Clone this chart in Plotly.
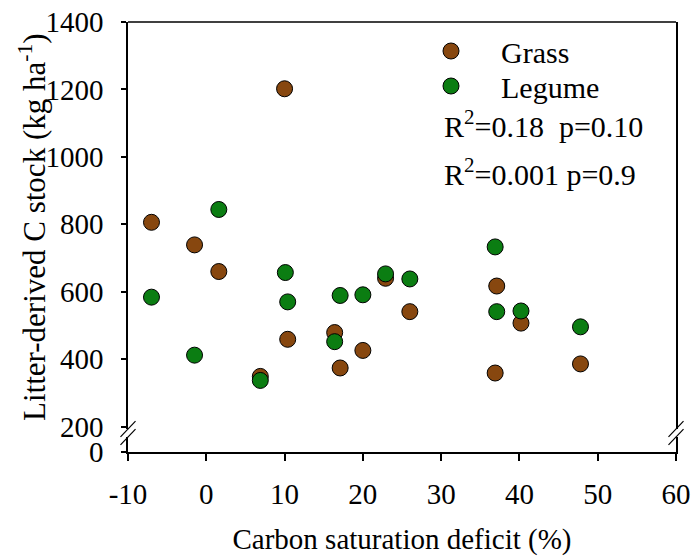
import plotly.graph_objects as go

# ---- data ----
grass_x = [-7.0, -1.5, 1.6, 6.9, 10.0, 10.4, 16.4, 17.1, 20.0, 22.9, 26.0, 36.9, 37.1, 40.2, 47.8]
grass_y = [806, 739, 660, 349, 1202, 459, 479, 374, 426, 640, 541, 359, 617, 507, 386]
legume_x = [-7.0, -1.5, 1.6, 6.9, 10.1, 10.4, 16.4, 17.1, 20.0, 22.9, 26.0, 36.9, 37.1, 40.2, 47.8]
legume_y = [584, 412, 844, 337, 657, 570, 452, 589, 591, 653, 638, 733, 541, 543, 496]

x_ticks = [-10, 0, 10, 20, 30, 40, 50, 60]
x_tick_labels = ["-10", "0", "10", "20", "30", "40", "50", "60"]
y_ticks_upper = [200, 400, 600, 800, 1000, 1200, 1400]
y_ticks_lower = [0]

stats_text = ["R<sup>2</sup>=0.18  p=0.10", "R<sup>2</sup>=0.001 p=0.9"]
x_title = "Carbon saturation deficit (%)"
y_title = "Litter-derived C stock (kg ha<sup>-1</sup>)"

FONT = "Liberation Serif, Tinos, serif"
GRASS_C = "#87470f"
LEGUME_C = "#0b7d12"

W, H = 696, 556
L, R, T, B = 128, 20, 22, 104
PW, PH = W - L - R, H - T - B

def py(pix):  # pixel y -> paper y
    return (H - B - pix) / PH

def px(pix):  # pixel x -> paper x
    return (pix - L) / PW

upper_bottom_px = 429
lower_top_px = 437

fig = go.Figure()
fig.add_trace(go.Scatter(x=grass_x, y=grass_y, mode="markers", name="Grass",
                         marker=dict(size=16, color=GRASS_C, line=dict(color="black", width=1)),
                         xaxis="x", yaxis="y", legend="legend"))
fig.add_trace(go.Scatter(x=legume_x, y=legume_y, mode="markers", name="Legume",
                         marker=dict(size=16, color=LEGUME_C, line=dict(color="black", width=1)),
                         xaxis="x", yaxis="y", legend="legend2"))
# empty trace so the lower (broken) axis segment is created
fig.add_trace(go.Scatter(x=[None], y=[None], mode="markers", showlegend=False, hoverinfo="skip",
                         xaxis="x", yaxis="y2"))

axis_common = dict(showline=True, linecolor="black", linewidth=1.5, showgrid=False, zeroline=False,
                   ticks="outside", tickcolor="black", tickwidth=1.5, automargin=False,
                   tickfont=dict(family=FONT, size=29, color="black"))

fig.update_layout(
    width=W, height=H, margin=dict(l=L, r=R, t=T, b=B, autoexpand=False),
    paper_bgcolor="white", plot_bgcolor="white",
    font=dict(family=FONT, color="black"),
    xaxis=dict(**axis_common, range=[-10, 60], tickvals=x_ticks, ticktext=x_tick_labels,
               ticklen=7, anchor="y2", ticklabelstandoff=8,
               title=dict(text=x_title, font=dict(family=FONT, size=29, color="black"), standoff=40)),
    yaxis=dict(**axis_common, range=[193, 1400], tickvals=y_ticks_upper, ticklen=5, mirror=True,
               domain=[py(upper_bottom_px), 1], ticklabelstandoff=12),
    yaxis2=dict(**axis_common, range=[0, 45], tickvals=y_ticks_lower, ticklen=5, mirror=True,
                domain=[0, py(lower_top_px)], ticklabelstandoff=12),
    legend=dict(x=px(401), y=py(25), xanchor="left", yanchor="top", bgcolor="rgba(0,0,0,0)",
                font=dict(family=FONT, size=30, color="black"), itemwidth=90),
    legend2=dict(x=px(401), y=py(60), xanchor="left", yanchor="top", bgcolor="rgba(0,0,0,0)",
                 font=dict(family=FONT, size=30, color="black"), itemwidth=90),
    showlegend=True,
)

# y-axis title
fig.add_annotation(text=y_title, xref="paper", yref="paper", x=px(33), y=py(227),
                   xanchor="center", yanchor="middle", textangle=-90, showarrow=False,
                   font=dict(family=FONT, size=31, color="black"))

# top border
fig.add_shape(type="line", xref="paper", yref="paper", x0=0, x1=1, y0=1, y1=1,
              line=dict(color="black", width=1.5))
# axis break marks
for xc in (L, W - R):
    for yc in (upper_bottom_px, lower_top_px):
        fig.add_shape(type="line", xref="paper", yref="paper",
                      x0=px(xc - 7.5), y0=py(yc + 7.8), x1=px(xc + 7.5), y1=py(yc - 7.8),
                      line=dict(color="black", width=1.2))

for t, ypix in zip(stats_text, (124, 172)):
    fig.add_annotation(text=t, xref="paper", yref="paper", x=px(442), y=py(ypix),
                       xanchor="left", yanchor="middle", showarrow=False,
                       font=dict(family=FONT, size=30, color="black"))

fig.write_html("out.html")
